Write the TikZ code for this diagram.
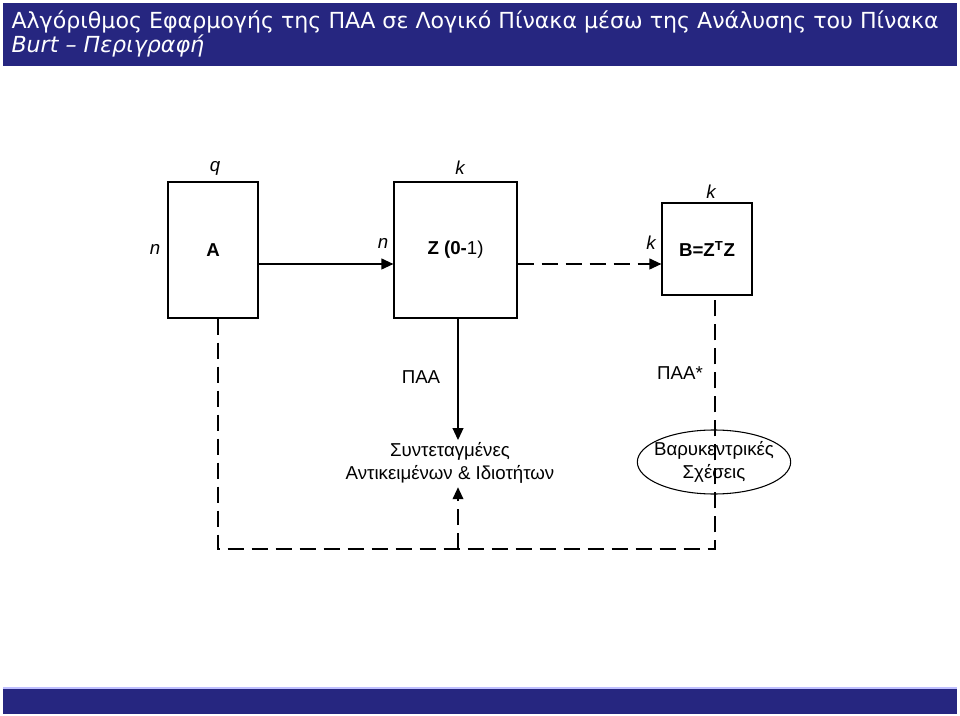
\documentclass[tikz,border=0pt]{standalone}
\usepackage{fontspec}
\setmainfont{Liberation Sans}
\newfontfamily\titlefont{DejaVu Sans}
\usepackage{tikz}
\usetikzlibrary{arrows.meta}
\definecolor{barblue}{RGB}{38,38,128}
\tikzset{every picture/.style={line width=0.75pt}}
\tikzset{
  matbox/.style={draw,line width=0.8pt,font=\fontsize{14}{17}\selectfont\bfseries},
  dim/.style={font=\fontsize{14}{17}\selectfont\itshape},
  flow/.style={line width=1.4pt,-{Triangle[length=9pt,width=8pt]}},
  dashline/.style={line width=1.4pt,dash pattern=on 12pt off 6pt},
  titletext/.style={anchor=base west,text=white,inner sep=0pt},
}

\begin{document}
\begin{tikzpicture}[x=0.75pt,y=-0.75pt,font=\fontsize{14}{17.5}\selectfont]
\useasboundingbox (0,0) rectangle (960,716);
% title and footer bars
\fill[barblue] (3,3) rectangle (957,66);
\node[titletext,font=\titlefont\fontsize{16.6}{20}\selectfont] (title1) at (11,29) {Αλγόριθμος Εφαρμογής της ΠΑΑ σε Λογικό Πίνακα μέσω της Ανάλυσης του Πίνακα};
\node[titletext,font=\titlefont\itshape\fontsize{16.6}{20}\selectfont] (title2) at (11,53) {Burt – Περιγραφή};
\fill[barblue] (3,688) rectangle (957,714);
\draw[blue!25,line width=1pt] (3,688) -- (957,688);
%
% the three matrices
\node[matbox,minimum width=67.5pt,minimum height=102pt] (A) at (213,250) {A};
\node[matbox,minimum width=92.25pt,minimum height=102pt] (Z) at (455.5,250) {Z (0-\textmd{1)}};
\node[matbox,minimum width=67.5pt,minimum height=69pt] (B) at (707,249) {B=Z\textsuperscript{T}Z};
\node[dim] (qA) at (215,168) {q};
\node[dim] (nA) at (155,249) {n};
\node[dim] (kZ) at (460,168) {k};
\node[dim] (nZ) at (383,243) {n};
\node[dim] (kB) at (711,192) {k};
\node[dim] (kB2) at (651,243) {k};
%
% results
\node[align=center] (coord) at (450,463) {Συντεταγμένες\\Αντικειμένων \& Ιδιοτήτων};
\node[align=center] (bary) at (714,462) {Βαρυκεντρικές\\Σχέσεις};
\draw[line width=0.8pt] (bary.center) ellipse [x radius=57.5pt,y radius=24pt];
\node (paa) at (421,377) {ΠΑΑ};
\node (paastar) at (680,373) {ΠΑΑ*};
%
\coordinate (row) at (0,264);
\coordinate (a1) at (218,549);
\coordinate (c1) at (458,549);
\coordinate (b1) at (715,549);
%
\draw[flow] (A.east |- row) -- (Z.west |- row);
\draw[flow,dashline] (Z.east |- row) -- (B.west |- row);
\draw[flow] (Z.south -| c1) -- ([yshift=-2pt]coord.north -| c1);
\draw[dashline] (A.south -| a1) -- (a1) -- (b1) -- (B.south -| b1);
\draw[flow,dashline] (c1) -- ([yshift=1pt]coord.south -| c1);
\end{tikzpicture}
\end{document}
